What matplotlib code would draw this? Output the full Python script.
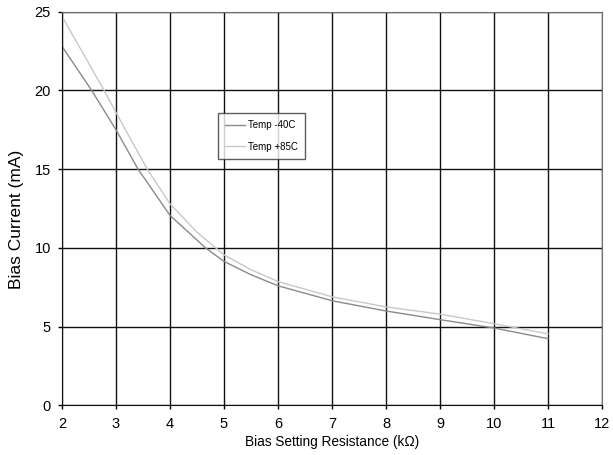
import matplotlib
matplotlib.use("Agg")
import matplotlib.pyplot as plt

# Temp -40C readings
m40_resistance = [2, 2.55, 3, 3.41, 4, 4.66, 5, 5.5, 6, 7, 8, 9, 10, 11]
m40_current = [22.8, 20.0, 17.5, 15.0, 12.07, 10.0, 9.15, 8.3, 7.6, 6.65, 6.0, 5.45, 4.92, 4.24]
# Temp +85C readings
p85_resistance = [2, 2.5, 2.78, 3, 3.58, 4, 4.5, 4.85, 5, 5.5, 6, 7, 8, 9, 10, 11]
p85_current = [24.7, 21.7, 20.0, 18.6, 15.0, 12.8, 11.0, 10.0, 9.56, 8.62, 7.87, 6.9, 6.26, 5.8, 5.19, 4.55]
series_labels = ["Temp -40C", "Temp +85C"]
x_ticks = list(range(2, 13))
y_ticks = [0, 5, 10, 15, 20, 25]

plt.rcParams['font.family'] = ['Liberation Sans', 'DejaVu Sans']

fig = plt.figure(figsize=(6.13, 4.55), dpi=100)
ax = fig.add_axes([0.1011, 0.1088, 0.881, 0.8655])

ax.plot(m40_resistance, m40_current, color='#8a8a8a', lw=1.0, label=series_labels[0])
ax.plot(p85_resistance, p85_current, color='#c8c8c8', lw=1.0, label=series_labels[1])

ax.set_xlim(2, 12)
ax.set_ylim(0, 25)
ax.set_xticks(x_ticks)
ax.set_yticks(y_ticks)
ax.grid(True, color='#111111', lw=1.0)
ax.set_axisbelow(True)

for s in ['top', 'right']:
    ax.spines[s].set_color('#707070')
for s in ['left', 'bottom']:
    ax.spines[s].set_color('#111111')
ax.tick_params(axis='both', direction='out', length=3, width=1, labelsize=10.5)
ax.tick_params(axis='x', pad=5)
ax.tick_params(axis='y', pad=5)

ax.set_xlabel('Bias Setting Resistance (k\u03a9)', fontsize=9.8, labelpad=3)
ax.set_ylabel('Bias Current (mA)', fontsize=12.5)
ax.yaxis.set_label_coords(-0.07, 0.4736)

leg = ax.legend(loc='upper left', bbox_to_anchor=(0.289, 0.742), fontsize=7,
                frameon=True, fancybox=False, handlelength=2.1, handletextpad=0.3,
                labelspacing=1.2, borderpad=0.7, borderaxespad=0)
leg.get_frame().set_edgecolor('#333333')
leg.get_frame().set_linewidth(1.0)

fig.savefig('out.png', dpi=100)
